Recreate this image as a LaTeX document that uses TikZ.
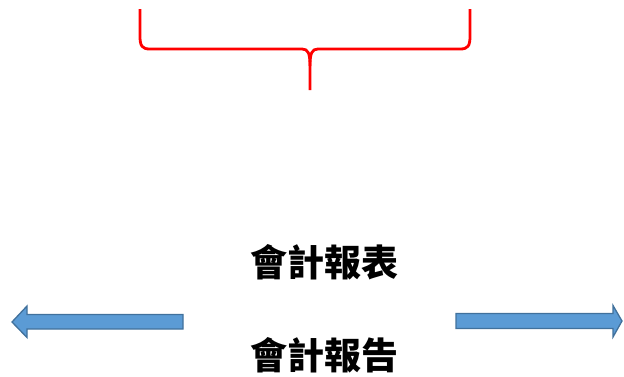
\documentclass[tikz,border=0pt]{standalone}
\usepackage{fontspec}
\newfontfamily\cjk{Noto Sans CJK TC}
\usepackage{tikz}
\definecolor{arrowfill}{HTML}{5B9BD5}
\definecolor{arrowline}{HTML}{41719C}
\tikzset{
    bracket/.style={draw=red,line width=2.8pt,line join=round},
    label/.style={font=\cjk\bfseries\fontsize{37}{37}\selectfont,inner sep=0pt},
    blockarrow/.style={draw=arrowline,fill=arrowfill,line width=1.3pt,line join=miter},
}
\begin{document}
\begin{tikzpicture}[x=1pt,y=-1pt]
		\useasboundingbox (0,0) rectangle (624,376);
	
		% brace
		\draw[bracket] (140,9) -- (140,36) .. controls (140,46) and (142,49) .. (150,49)
			-- (302,49) .. controls (308,49) and (310,53) .. (310,66) -- (310,90);
		\draw[bracket] (310,66) .. controls (310,53) and (312,49) .. (318,49)
			-- (460,49) .. controls (468,49) and (470,46) .. (470,36) -- (470,9);
	
		\node[label] (statement) at (324,262) {會計報表};
		\node[label] (report) at (324,355) {會計報告};
	
		% arrows
		\draw[blockarrow] (183,314.5) -- (27,314.5) -- (27,306) -- (12,322)
			-- (27,337.5) -- (27,329) -- (183,329) -- cycle;
		\draw[blockarrow] (456,313.5) -- (613,313.5) -- (613,305.5) -- (622,321)
			-- (613,337) -- (613,328.5) -- (456,328.5) -- cycle;
	\end{tikzpicture}
\end{document}
